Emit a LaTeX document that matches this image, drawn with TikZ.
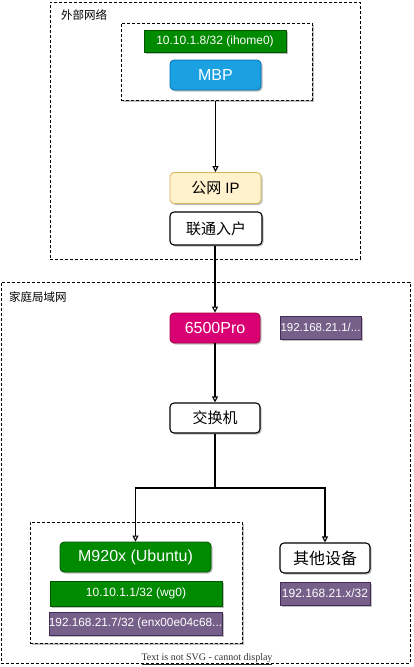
\documentclass[tikz,border=0pt]{standalone}
\usepackage{fontspec}
\setmainfont{Liberation Sans}
\newfontfamily\cjk{Noto Sans CJK SC}
\newfontfamily\serifnote{Liberation Serif}
\usetikzlibrary{arrows.meta,shadows}
\definecolor{dgreen}{HTML}{008A00}
\definecolor{dgreenS}{HTML}{005700}
\definecolor{dblue}{HTML}{1BA1E2}
\definecolor{dblueS}{HTML}{006EAF}
\definecolor{dyel}{HTML}{FFF2CC}
\definecolor{dyelS}{HTML}{D6B656}
\definecolor{dmag}{HTML}{D80073}
\definecolor{dmagS}{HTML}{A50040}
\definecolor{dpur}{HTML}{76608A}
\definecolor{dpurS}{HTML}{432D57}
\tikzset{
  shd/.style={drop shadow={opacity=0.25,shadow xshift=1.5pt,shadow yshift=-1.5pt,fill=black}},
  grpbox/.style={draw=black, dashed, dash pattern=on 3pt off 2pt, line width=0.8pt, fill=white, inner sep=0pt},
  boxr/.style={rounded corners=4pt, line width=0.8pt, inner sep=0pt, shd},
  tagbox/.style={line width=0.6pt, inner sep=0pt, text=white, font=\fontsize{12}{14}\selectfont, shd},
  greentag/.style={tagbox, fill=dgreen, draw=dgreenS},
  purtag/.style={tagbox, fill=dpur, draw=dpurS},
  arr/.style={-{Triangle[open,length=6pt,width=6pt]}, line width=1.1pt},
  conn/.style={line width=1.1pt},
  lbl/.style={font=\cjk\fontsize{11.5}{13}\selectfont, anchor=west, inner sep=0pt},
}
\begin{document}
\begin{tikzpicture}[x=1pt,y=-1pt]
\useasboundingbox[fill=white] (0,0) rectangle (414,667);
% outer groups
\node[grpbox, minimum width=310pt, minimum height=257pt, anchor=north west] (net1) at (50,2) {};
\node[lbl] (net1lbl) at (61,15) {外部网络};
\node[grpbox, minimum width=409pt, minimum height=381pt, anchor=north west] (net2) at (0.5,282) {};
\node[lbl] (net2lbl) at (9,297) {家庭局域网};
% inner groups
\node[grpbox, minimum width=191pt, minimum height=77pt, anchor=north west, shd] (grp1) at (121,23) {};
\node[grpbox, minimum width=212pt, minimum height=121pt, anchor=north west, shd] (grp2) at (30,522) {};
% nodes
\node[greentag, minimum width=142pt, minimum height=22pt] (ip1) at (215,41) {10.10.1.8/32 (ihome0)};
\node[boxr, fill=dblue, draw=dblueS, text=white, minimum width=91pt, minimum height=30pt, font=\fontsize{16}{18}\selectfont] (mbp) at (215.5,75) {MBP};
\node[boxr, fill=dyel, draw=dyelS, minimum width=91pt, minimum height=31pt, font=\fontsize{15}{17}\selectfont] (pubip) at (215.5,188) {{\cjk 公网} IP};
\node[boxr, fill=white, draw=black, line width=1.1pt, minimum width=92pt, minimum height=33pt, font=\cjk\fontsize{15}{17}\selectfont] (lt) at (216,228.5) {联通入户};
\node[boxr, fill=dmag, draw=dmagS, text=white, minimum width=90pt, minimum height=30pt, font=\fontsize{16}{18}\selectfont] (r6500) at (215,328) {6500Pro};
\node[purtag, minimum width=81pt, minimum height=23pt, font=\fontsize{11.5}{13}\selectfont] (ip6500) at (320.5,327.5) {192.168.21.1/...};
\node[boxr, fill=white, draw=black, line width=1.1pt, minimum width=90pt, minimum height=30pt, font=\cjk\fontsize{15}{17}\selectfont] (sw) at (215,418) {交换机};
\node[boxr, fill=dgreen, draw=dgreenS, text=white, minimum width=151pt, minimum height=30pt, font=\fontsize{16}{18}\selectfont] (m920) at (135.5,557) {M920x (Ubuntu)};
\node[greentag, minimum width=172pt, minimum height=25pt] (wg0) at (136,593.5) {10.10.1.1/32 (wg0)};
\node[purtag, minimum width=173pt, minimum height=23pt, font=\fontsize{11.8}{13}\selectfont] (enx) at (135.5,623.5) {192.168.21.7/32 (enx00e04c68...};
\node[boxr, fill=white, draw=black, line width=1.1pt, minimum width=90pt, minimum height=30pt, font=\cjk\fontsize{16}{18}\selectfont] (other) at (325,558) {其他设备};
\node[purtag, minimum width=90pt, minimum height=23pt] (ipx) at (325,593.5) {192.168.21.x/32};
% note
\node[font=\serifnote\fontsize{10}{11}\selectfont, text=black!80, inner sep=0pt] (note) at (207,659) {\underline{Text is not SVG - cannot display}};
% connectors
\draw[arr] (grp1.south -| pubip.north) -- (pubip.north);
\draw[arr] (lt.south -| r6500.north) -- (r6500.north);
\draw[arr] (r6500.south) -- (sw.north);
\coordinate (j) at (215,488);
\draw[conn] (sw.south) -- (j);
\draw[arr] (j) -| (m920.north);
\draw[arr] (j) -| (other.north);
\end{tikzpicture}
\end{document}
